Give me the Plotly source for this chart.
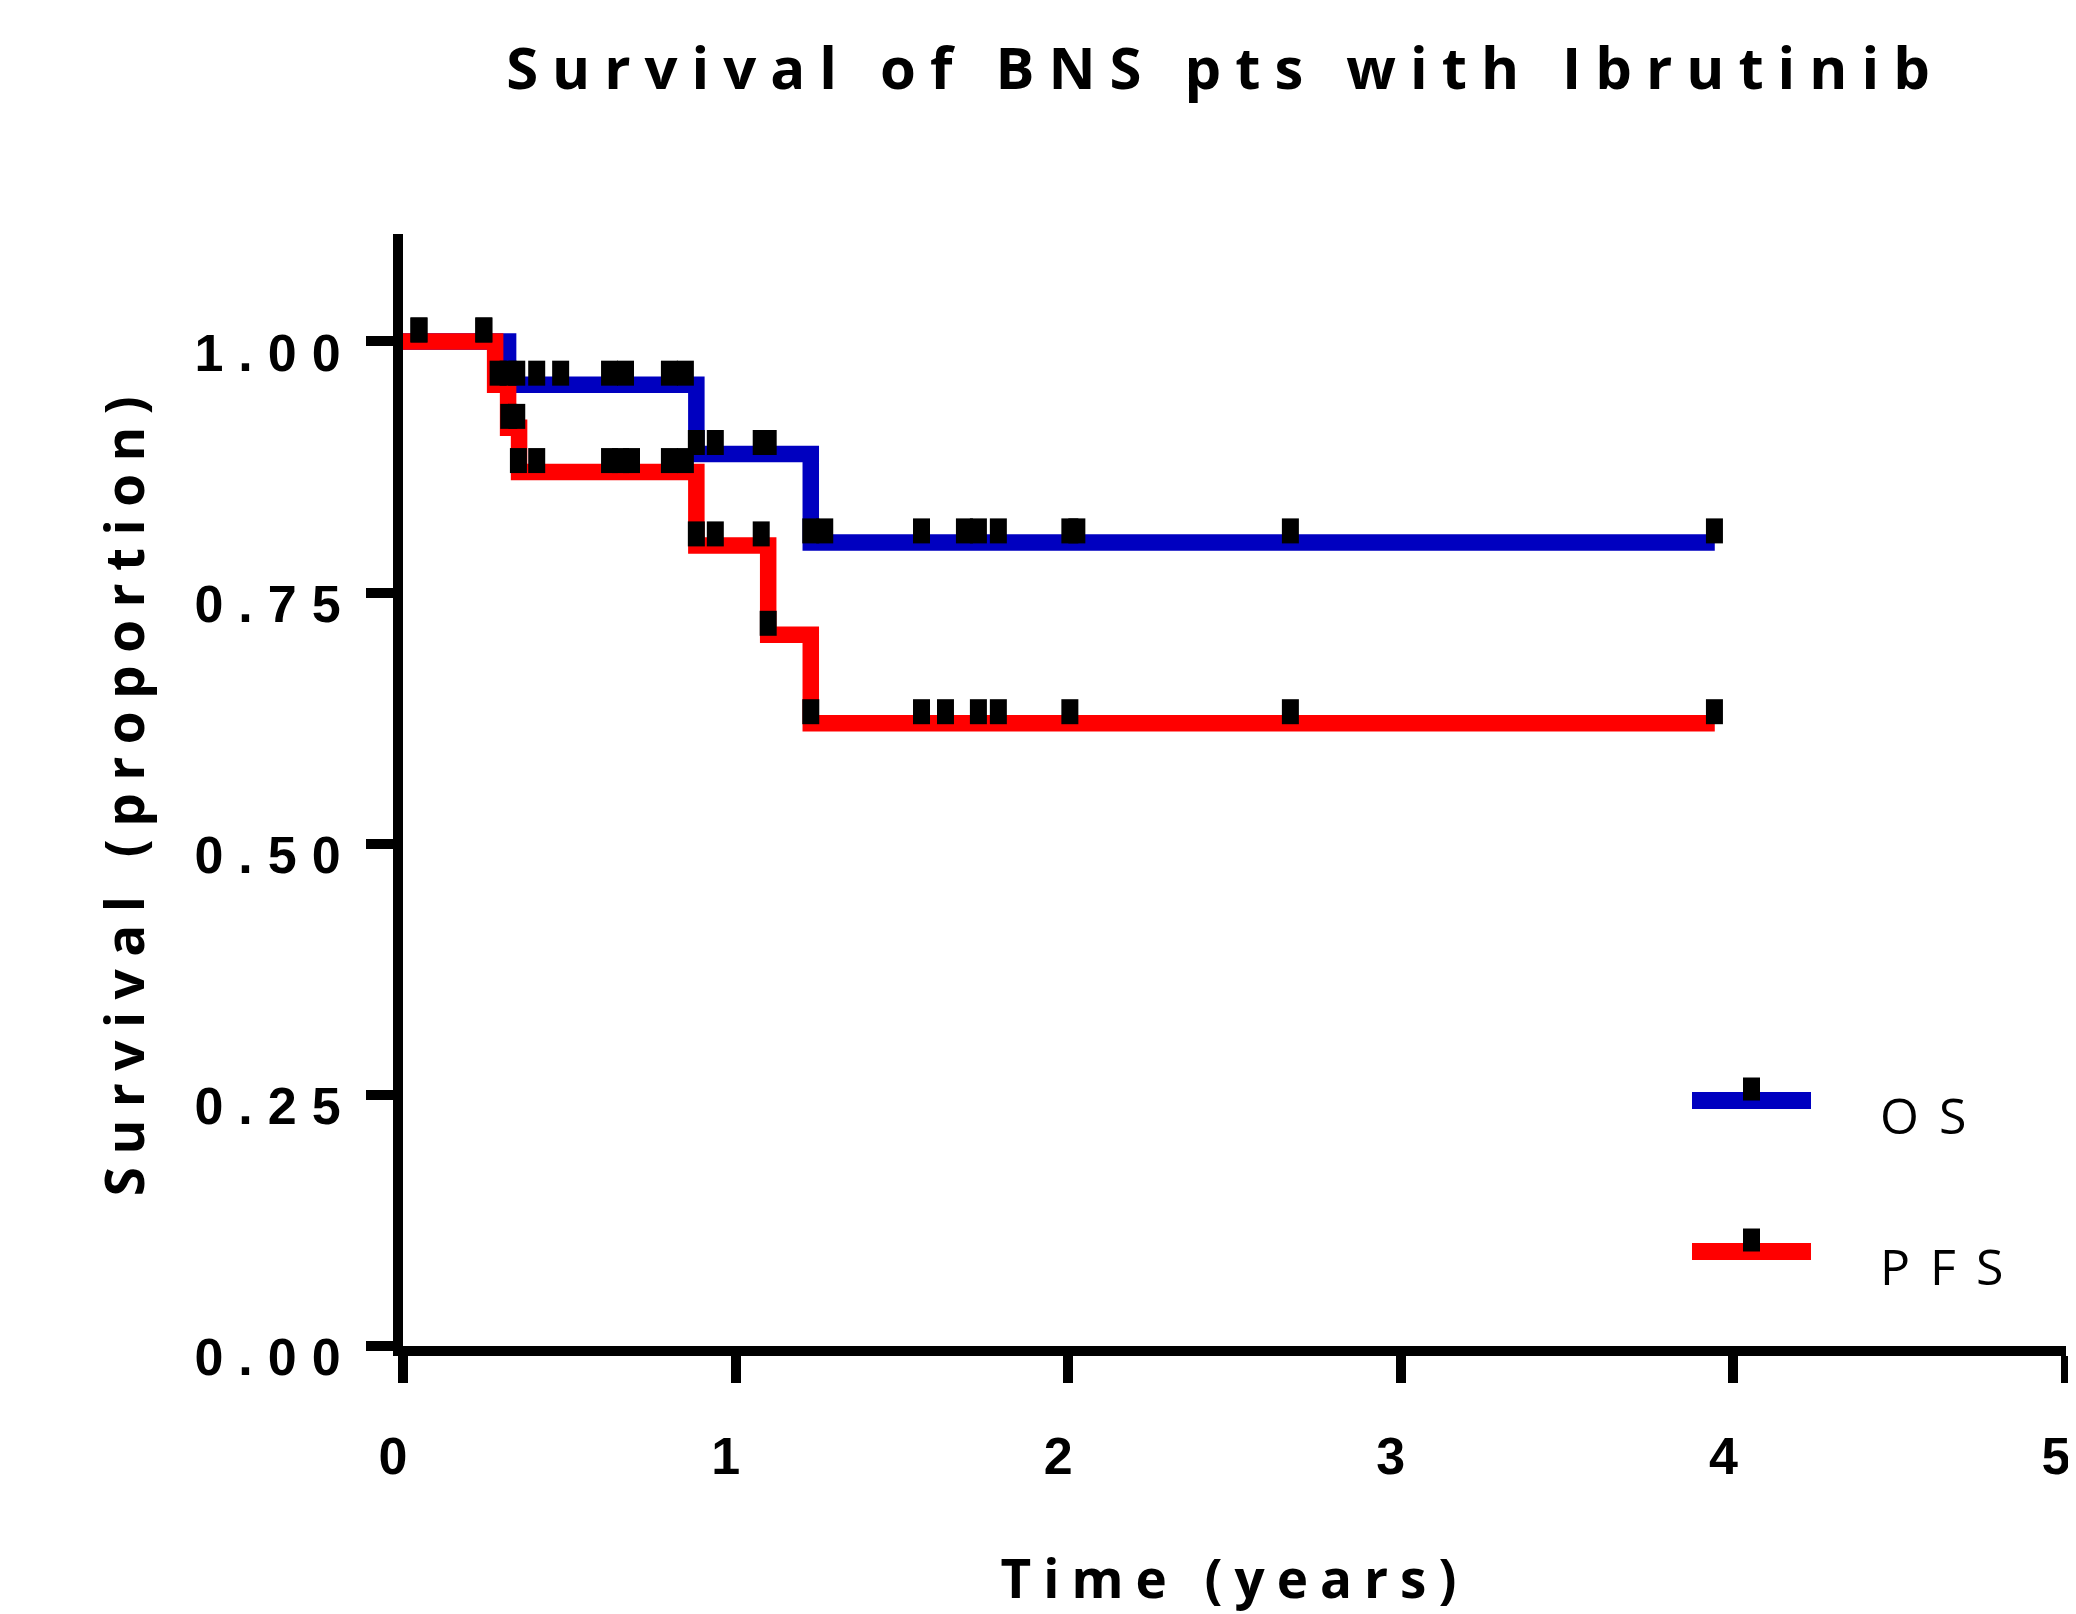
import plotly.graph_objects as go

# ---------------- data ----------------
os_time = [0, 0.316, 0.882, 1.226, 3.944]
os_surv = [1.0, 0.957, 0.888, 0.800, 0.800]

pfs_time = [0, 0.277, 0.316, 0.349, 0.882, 1.098, 1.226, 3.944]
pfs_surv = [1.0, 0.957, 0.914, 0.870, 0.797, 0.708, 0.620, 0.620]

os_cens_time = [0.048, 0.243,
                0.316, 0.342, 0.402, 0.474, 0.621, 0.669, 0.801, 0.849,
                0.882, 0.939, 1.077, 1.098,
                1.226, 1.268, 1.559, 1.688, 1.730, 1.790, 2.005, 2.026, 2.668, 3.943]
os_cens_surv = [1.0, 1.0,
                0.957, 0.957, 0.957, 0.957, 0.957, 0.957, 0.957, 0.957,
                0.888, 0.888, 0.888, 0.888,
                0.800, 0.800, 0.800, 0.800, 0.800, 0.800, 0.800, 0.800, 0.800, 0.800]

pfs_cens_time = [0.048, 0.243,
                 0.286,
                 0.318, 0.342,
                 0.347, 0.402, 0.621, 0.654, 0.687, 0.801, 0.849,
                 0.882, 0.939, 1.077,
                 1.098,
                 1.226, 1.559, 1.631, 1.730, 1.790, 2.005, 2.668, 3.943]
pfs_cens_surv = [1.0, 1.0,
                 0.957,
                 0.914, 0.914,
                 0.870, 0.870, 0.870, 0.870, 0.870, 0.870, 0.870,
                 0.797, 0.797, 0.797,
                 0.708,
                 0.620, 0.620, 0.620, 0.620, 0.620, 0.620, 0.620, 0.620]

series_names = ["OS", "PFS"]
x_tickvals = [0, 1, 2, 3, 4, 5]
x_ticklabels = ["0", "1", "2", "3", "4", "5"]
y_tickvals = [0, 0.25, 0.5, 0.75, 1.0]
y_ticklabels = ["0.00", "0.25", "0.50", "0.75", "1.00"]
title_text = "Survival of BNS pts with Ibrutinib"
x_title = "Time (years)"
y_title = "Survival (proportion)"

# ---------------- styling ----------------
OFF = 8                      # page body margin of the html page
W, H = 2076 - OFF, 1614 - OFF
ML, MR, MT, MB = 395, 10, 226, 268
PW, PH = W - ML - MR, H - MT - MB
YMAX = 1.107
BLUE, RED = "#0000C0", "#FF0000"
LINE_W = 16.5
MARK_H, MARK_W = 25, 17
mark_off = (MARK_H / 2 - 1) * YMAX / PH   # censor ticks sit just above the curve


def spaced(t, sp):
    return f'<span style="letter-spacing:{sp}px">{t}</span>'


fig = go.Figure()

for name, tt, ss, col in [
    (series_names[0], os_time, os_surv, BLUE),
    (series_names[1], pfs_time, pfs_surv, RED),
]:
    fig.add_trace(go.Scatter(
        x=tt, y=ss, mode="lines", name=name, showlegend=False,
        line=dict(color=col, width=LINE_W, shape="hv"),
    ))
for name, ct, cs in [(series_names[0], os_cens_time, os_cens_surv),
                     (series_names[1], pfs_cens_time, pfs_cens_surv)]:
    fig.add_trace(go.Scatter(
        x=ct, y=[v + mark_off for v in cs], mode="markers", name=name + " censored",
        showlegend=False,
        marker=dict(symbol="line-ns", size=MARK_H / 1.4, color="black",
                    line=dict(width=MARK_W, color="black")),
    ))

tickfont = dict(family="Liberation Sans, Arial, sans-serif", size=52, color="black", weight="bold")
titlefont = dict(family="Open Sans, sans-serif", size=53, color="black", weight="bold")

fig.update_xaxes(
    range=[0, 5], tickvals=x_tickvals, ticktext=[spaced(t, 0) for t in x_ticklabels],
    showline=True, linewidth=10, linecolor="black", ticks="outside", ticklen=27,
    tickwidth=10, tickcolor="black", showgrid=False, zeroline=False,
    tickfont=tickfont, ticklabelstandoff=29, ticklabelshift=-10,
    title=dict(text=spaced(x_title, 12), font=titlefont, standoff=87),
    automargin=False,
)
fig.update_yaxes(
    range=[0, YMAX], tickvals=y_tickvals, ticktext=[spaced(t, 15) for t in y_ticklabels],
    showline=True, linewidth=10, linecolor="black", ticks="outside", ticklen=27,
    tickwidth=10, tickcolor="black", showgrid=False, zeroline=False,
    tickfont=tickfont, ticklabelstandoff=0, ticklabelshift=11,
    title=dict(text=spaced(y_title, 12.5), font=titlefont, standoff=37),
    automargin=False,
)


# ---------------- custom legend (long line sample + censor tick) ----------------
def px_x(p):
    return (p - OFF - ML) / PW


def px_y(p):
    return (H - MB - (p - OFF)) / PH


legend_rows = [(series_names[0], BLUE, 1100.5), (series_names[1], RED, 1251.5)]
for name, col, yc in legend_rows:
    fig.add_shape(type="line", xref="paper", yref="paper",
                  x0=px_x(1692), x1=px_x(1811), y0=px_y(yc), y1=px_y(yc),
                  line=dict(color=col, width=17))
    fig.add_shape(type="rect", xref="paper", yref="paper",
                  x0=px_x(1743), x1=px_x(1760), y0=px_y(yc - 23), y1=px_y(yc),
                  line=dict(width=0), fillcolor="black")
    fig.add_annotation(xref="paper", yref="paper", x=px_x(1878), y=px_y(yc + 14),
                       xanchor="left", yanchor="middle", showarrow=False,
                       text=spaced(name, 20),
                       font=dict(family="Open Sans, sans-serif", size=50, color="black"))

fig.update_layout(
    width=W, height=H,
    margin=dict(l=ML, r=MR, t=MT, b=MB),
    paper_bgcolor="white", plot_bgcolor="white",
    title=dict(text=spaced(title_text, 14), x=(1225 - OFF) / W, xanchor="center",
               y=1 - (69 - OFF) / H, yanchor="middle", xref="container", yref="container",
               font=dict(family="Open Sans, sans-serif", size=58, color="black", weight="bold")),
    showlegend=False,
)

fig.write_html("out.html")
